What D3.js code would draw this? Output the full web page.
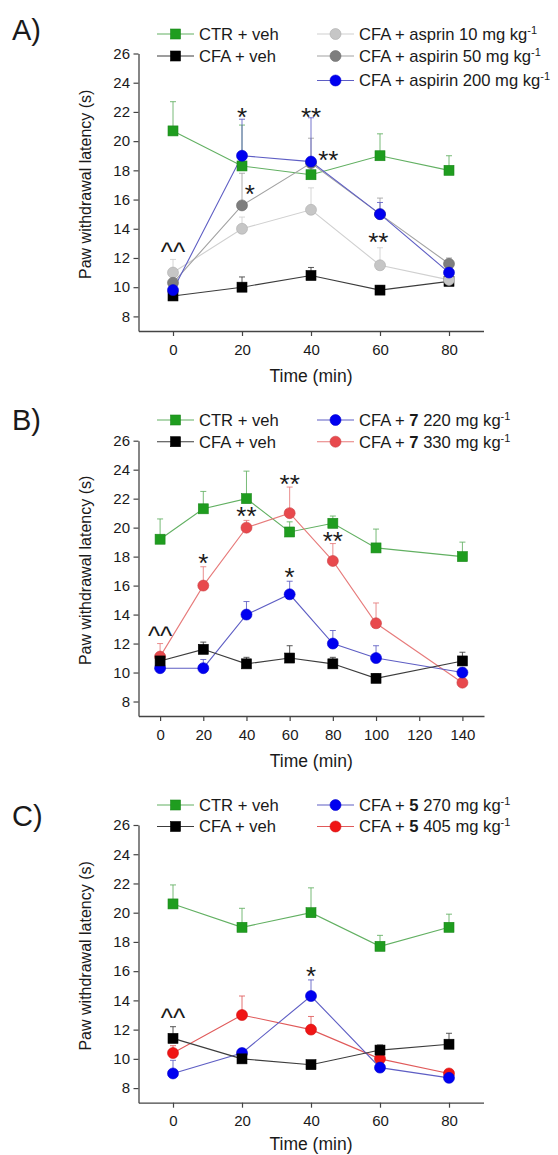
<!DOCTYPE html>
<html><head><meta charset="utf-8">
<script src="https://cdn.jsdelivr.net/npm/d3@7"></script>
<style>
body{margin:0;background:#fff}
svg{display:block}
text{font-family:"Liberation Sans",Arial,Helvetica,sans-serif;fill:#1a1a1a}
</style>
</head><body><svg id="chart" width="558" height="1155"></svg>
<script>
// ---------------- DATA ----------------
const panelLabels = ["A)", "B)", "C)"];
const yTickValues = [8, 10, 12, 14, 16, 18, 20, 22, 24, 26];
const xTicksA = [0, 20, 40, 60, 80];
const xTicksB = [0, 20, 40, 60, 80, 100, 120, 140];
const xTicksC = [0, 20, 40, 60, 80];
const yTitle = "Paw withdrawal latency (s)";
const xTitle = "Time (min)";

// Panel A
const timeA = [0, 20, 40, 60, 80];
const ctrA = [20.7, 18.3, 17.7, 19.0, 18.0];
const ctrAErr = [2.0, 2.8, 0.5, 1.5, 1.0];
const vehA = [9.4, 10.0, 10.8, 9.8, 10.4];
const vehAErr = [0.3, 0.7, 0.55, 0.3, 0.3];
const asp10A = [11.0, 14.0, 15.3, 11.5, 10.5];
const asp10AErr = [0.9, 0.8, 1.5, 1.2, 0.3];
const asp50A = [10.3, 15.6, 18.5, 15.0, 11.6];
const asp50AErr = [0.5, 2.2, 1.7, 1.1, 0.4];
const asp200A = [9.8, 19.0, 18.6, 15.0, 11.0];
const asp200AErr = [0.4, 2.5, 3.0, 0.8, 0.4];
const legendA = ["CTR + veh", "CFA + veh", "CFA + asprin 10 mg kg^-1", "CFA + aspirin 50 mg kg^-1", "CFA + aspirin 200 mg kg^-1"];
const annA = [
  {t: "^^", x: 0, y: 12.7}, {t: "*", x: 20, y: 22.1}, {t: "**", x: 40, y: 22.1},
  {t: "*", x: 22.3, y: 16.8}, {t: "**", x: 45, y: 19.1}, {t: "**", x: 59.5, y: 13.5}
];

// Panel B
const timeB = [0, 20, 40, 60, 80, 100, 140];
const ctrB = [19.2, 21.3, 22.0, 19.7, 20.3, 18.6, 18.0];
const ctrBErr = [1.4, 1.2, 1.9, 0.7, 0.5, 1.3, 1.0];
const vehB = [10.8, 11.6, 10.6, 11.0, 10.6, 9.6, 10.8];
const vehBErr = [0.5, 0.5, 0.45, 0.85, 0.45, 0.3, 0.6];
const c7lowB = [10.3, 10.3, 14.0, 15.4, 12.0, 11.0, 10.0];
const c7lowBErr = [0.6, 0.6, 0.9, 0.9, 0.9, 0.85, 0.3];
const c7highB = [11.1, 16.0, 20.0, 21.0, 17.7, 13.4, 9.3];
const c7highBErr = [0.9, 1.3, 0.5, 1.8, 1.2, 1.4, 0.3];
const legendB = ["CTR + veh", "CFA + veh", "CFA + **7** 220 mg kg^-1", "CFA + **7** 330 mg kg^-1"];
const annB = [
  {t: "^^", x: 0, y: 12.8}, {t: "*", x: 20, y: 18.0}, {t: "**", x: 40, y: 21.2},
  {t: "**", x: 60, y: 23.4}, {t: "**", x: 80, y: 19.5}, {t: "*", x: 60, y: 17.0}
];

// Panel C
const timeC = [0, 20, 40, 60, 80];
const ctrC = [20.6, 19.0, 20.0, 17.7, 19.0];
const ctrCErr = [1.3, 1.3, 1.7, 0.75, 0.9];
const vehC = [11.4, 10.0, 9.6, 10.6, 11.0];
const vehCErr = [0.8, 0.2, 0.2, 0.35, 0.75];
const c5lowC = [9.0, 10.4, 14.3, 9.4, 8.7];
const c5lowCErr = [0.9, 0.3, 1.1, 0.2, 0.2];
const c5highC = [10.4, 13.0, 12.0, 10.0, 9.0];
const c5highCErr = [0.5, 1.3, 0.9, 0.3, 0.2];
const legendC = ["CTR + veh", "CFA + veh", "CFA + **5** 270 mg kg^-1", "CFA + **5** 405 mg kg^-1"];
const annC = [{t: "^^", x: 0, y: 13.1}, {t: "*", x: 40, y: 16.1}];

// ---------------- STYLES ----------------
const st = {
  ctr:   {marker: "#1f9d1f", line: "#62b062", shape: "square"},
  veh:   {marker: "#000000", line: "#3c3c3c", shape: "square"},
  asp10: {marker: "#c6c6c6", line: "#d0d0d0", shape: "circle"},
  asp50: {marker: "#7e7e7e", line: "#a2a2a2", shape: "circle"},
  blue:  {marker: "#0000f0", line: "#5e5ec4", shape: "circle"},
  redB:  {marker: "#e8494d", line: "#e77b7b", shape: "circle"},
  redC:  {marker: "#f01515", line: "#e05a5a", shape: "circle"}
};
const legendCols = [{x1: 157, x2: 194, mx: 175.5, tx: 199}, {x1: 317, x2: 354, mx: 335.5, tx: 359}];

const panels = [
  {label: panelLabels[0], labelY: 40, top: 53.5, bottom: 331, xDomain: [-10, 90], xRight: 483.5, xTicks: xTicksA,
   times: timeA, rows: [34, 56, 80.5], ann: annA,
   series: [
     {s: st.ctr, v: ctrA, e: ctrAErr, name: legendA[0], col: 0, row: 0, z: 0},
     {s: st.veh, v: vehA, e: vehAErr, name: legendA[1], col: 0, row: 1, z: 1},
     {s: st.asp10, v: asp10A, e: asp10AErr, name: legendA[2], col: 1, row: 0, z: 2},
     {s: st.asp50, v: asp50A, e: asp50AErr, name: legendA[3], col: 1, row: 1, z: 3},
     {s: st.blue, v: asp200A, e: asp200AErr, name: legendA[4], col: 1, row: 2, z: 4}
   ]},
  {label: panelLabels[1], labelY: 430, top: 440.7, bottom: 716, xDomain: [-10, 150], xRight: 484, xTicks: xTicksB,
   times: timeB, rows: [420, 441.7], ann: annB,
   series: [
     {s: st.ctr, v: ctrB, e: ctrBErr, name: legendB[0], col: 0, row: 0, z: 0},
     {s: st.veh, v: vehB, e: vehBErr, name: legendB[1], col: 0, row: 1, z: 3},
     {s: st.blue, v: c7lowB, e: c7lowBErr, name: legendB[2], col: 1, row: 0, z: 2},
     {s: st.redB, v: c7highB, e: c7highBErr, name: legendB[3], col: 1, row: 1, z: 1}
   ]},
  {label: panelLabels[2], labelY: 826, top: 825, bottom: 1102.7, xDomain: [-10, 90], xRight: 483.5, xTicks: xTicksC,
   times: timeC, rows: [805, 826.5], ann: annC,
   series: [
     {s: st.ctr, v: ctrC, e: ctrCErr, name: legendC[0], col: 0, row: 0, z: 0},
     {s: st.veh, v: vehC, e: vehCErr, name: legendC[1], col: 0, row: 1, z: 3},
     {s: st.blue, v: c5lowC, e: c5lowCErr, name: legendC[2], col: 1, row: 0, z: 2},
     {s: st.redC, v: c5highC, e: c5highCErr, name: legendC[3], col: 1, row: 1, z: 1}
   ]}
];

// ---------------- DRAW ----------------
const svg = d3.select("#chart");
const LEFT = 138.5;
const H = 1155;

function richText(textSel, str) {
  const parts = str.split(/(\*\*[^*]+\*\*|\^-?\d+)/).filter(p => p.length);
  parts.forEach(p => {
    if (p.startsWith("**")) {
      textSel.append("tspan").attr("font-weight", "bold").text(p.slice(2, -2));
    } else if (p.startsWith("^")) {
      textSel.append("tspan").attr("font-size", "11px").attr("dy", -6).text(p.slice(1));
    } else {
      textSel.append("tspan").text(p);
    }
  });
}

function marker(g, shape, cx, cy, color) {
  if (shape === "square") {
    g.append("rect").attr("x", cx - 5).attr("y", cy - 5).attr("width", 10).attr("height", 10)
      .attr("fill", color).attr("stroke", d3.color(color).darker(0.4)).attr("stroke-width", 0.6);
  } else {
    g.append("circle").attr("cx", cx).attr("cy", cy).attr("r", 5.5)
      .attr("fill", color).attr("stroke", d3.color(color).darker(0.4)).attr("stroke-width", 0.6);
  }
}

panels.forEach(p => {
  const x = d3.scaleLinear().domain(p.xDomain).range([LEFT, p.xRight]);
  const y = d3.scaleLinear().domain([7, 26]).range([p.bottom, p.top]);
  const g = svg.append("g");

  g.append("text").attr("x", 12).attr("y", p.labelY).attr("font-size", "29px").text(p.label);

  const ya = g.append("g").attr("transform", `translate(${LEFT},0)`)
    .call(d3.axisLeft(y).tickValues(yTickValues).tickSize(5).tickSizeOuter(0).tickPadding(3.5));
  const xa = g.append("g").attr("transform", `translate(0,${p.bottom})`)
    .call(d3.axisBottom(x).tickValues(p.xTicks).tickSize(5).tickSizeOuter(0).tickPadding(8));
  [ya, xa].forEach(a => {
    a.selectAll(".domain").attr("stroke", "#444").attr("stroke-width", 1.3);
    a.selectAll(".tick line").attr("stroke", "#444").attr("stroke-width", 1.2);
    a.selectAll(".tick text").attr("font-size", "15px").attr("fill", "#1a1a1a")
      .attr("font-family", '"Liberation Sans",Arial,sans-serif');
  });

  const xMid = (LEFT + p.xRight) / 2;
  g.append("text").attr("x", xMid).attr("y", Math.min(p.bottom + 51, H - 5)).attr("text-anchor", "middle")
    .attr("font-size", "17.5px").text(xTitle);
  const yMid = (p.top + p.bottom) / 2 - 8;
  g.append("text").attr("transform", `translate(85,${yMid}) rotate(-90)`).attr("text-anchor", "middle")
    .attr("dy", "0.35em").attr("font-size", "16px").text(yTitle);

  const ordered = p.series.slice().sort((a, b) => a.z - b.z);

  ordered.forEach(se => {
    se.v.forEach((v, i) => {
      const cx = x(p.times[i]);
      const y0 = y(v), y1 = y(v + se.e[i]);
      g.append("line").attr("x1", cx).attr("x2", cx).attr("y1", y0).attr("y2", y1)
        .attr("stroke", se.s.line).attr("stroke-width", 1).attr("opacity", 0.85);
      g.append("line").attr("x1", cx - 3).attr("x2", cx + 3).attr("y1", y1).attr("y2", y1)
        .attr("stroke", se.s.line).attr("stroke-width", 1).attr("opacity", 0.85);
    });
  });

  const lineGen = d3.line().x(d => x(d[0])).y(d => y(d[1]));
  ordered.forEach(se => {
    g.append("path").datum(p.times.map((t, i) => [t, se.v[i]]))
      .attr("d", lineGen).attr("fill", "none").attr("stroke", se.s.line).attr("stroke-width", 1.1);
  });

  ordered.forEach(se => {
    const mg = g.append("g");
    se.v.forEach((v, i) => marker(mg, se.s.shape, x(p.times[i]), y(v), se.s.marker));
  });

  p.ann.forEach(a => {
    const fs = 26;
    const off = a.t.startsWith("^") ? 0.51 * fs : 0.58 * fs;
    g.append("text").attr("x", x(a.x)).attr("y", y(a.y) + off).attr("text-anchor", "middle")
      .attr("font-size", fs + "px").text(a.t);
  });

  p.series.forEach(se => {
    const c = legendCols[se.col];
    const ry = p.rows[se.row];
    const lg = g.append("g");
    lg.append("line").attr("x1", c.x1).attr("x2", c.x2).attr("y1", ry).attr("y2", ry)
      .attr("stroke", se.s.line).attr("stroke-width", 1.1);
    marker(lg, se.s.shape, c.mx, ry, se.s.marker);
    const t = lg.append("text").attr("x", c.tx).attr("y", ry + 5.9).attr("font-size", "16.6px");
    richText(t, se.name);
  });
});
</script>
</body></html>
